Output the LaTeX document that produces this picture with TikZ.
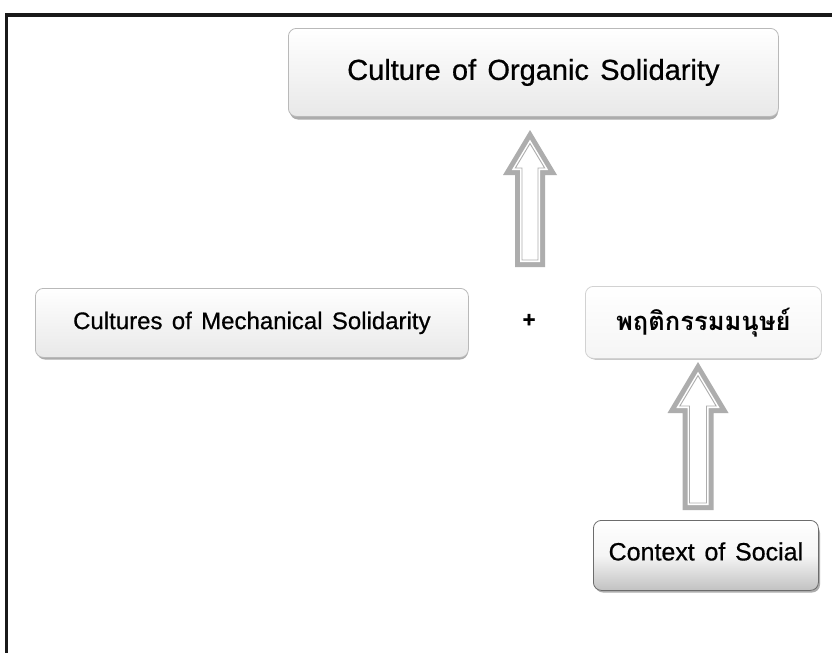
\documentclass[tikz,border=0pt]{standalone}
\usepackage{fontspec}
\setmainfont{Liberation Sans}[WordSpace=1.4, FakeBold=0.6]
\newfontfamily\thaifont[Script=Thai]{Loma}
\usetikzlibrary{calc}

% One layer of a block arrow pointing up, inset by #7 from the outline.
% #1 centre x, #2 tip y, #3 head base y, #4 tail y, #5 head half width, #6 shaft half width
\newcommand\arrowlayer[8]{%
  \pgfmathsetmacro\alen{#3-#2}%
  \pgfmathsetmacro\aedge{sqrt((#5)*(#5)+\alen*\alen)}%
  \pgfmathsetmacro\atip{#2+(#7)*\aedge/(#5)}%
  \pgfmathsetmacro\ahead{(#5)*((#3)-(#7)-(#2))/\alen-(#7)*\aedge/\alen}%
  \path[#8] (#1,\atip) -- ({#1+\ahead},{#3-(#7)}) -- ({#1+(#6)-(#7)},{#3-(#7)})
    -- ({#1+(#6)-(#7)},{#4-(#7)}) -- ({#1-(#6)+(#7)},{#4-(#7)})
    -- ({#1-(#6)+(#7)},{#3-(#7)}) -- ({#1-\ahead},{#3-(#7)}) -- cycle;}
\newcommand\hollowarrow[6]{%
  \arrowlayer{#1}{#2}{#3}{#4}{#5}{#6}{0}{fill=arrowgray}%
  \arrowlayer{#1}{#2}{#3}{#4}{#5}{#6}{5}{fill=white}%
  \arrowlayer{#1}{#2}{#3}{#4}{#5}{#6}{7}{fill=white,draw=arrowgray,line width=0.9pt}}

\definecolor{arrowgray}{gray}{0.68}
\definecolor{framegray}{gray}{0.1}

\tikzset{
  box/.style={anchor=north west, rounded corners=8pt, draw=gray!55, line width=0.8pt,
    top color=white, bottom color=gray!18, inner sep=0pt, align=center},
  boxshadow/.style={fill=gray!65, rounded corners=8pt},
  caption/.style={font=\fontsize{24}{28}\selectfont}
}

\begin{document}
\begin{tikzpicture}[x=1pt,y=-1pt]
\useasboundingbox (0,0) rectangle (832,653);
\fill[white] (0,0) rectangle (832,653);

% frame: top and left edges
\draw[framegray, line width=4.5pt] (5,15) -- (832,15);
\draw[framegray, line width=3.5pt] (6.7,15) -- (6.7,653);

% shadows under the boxes
\fill[boxshadow] (290,33) rectangle (778,119.5);
\fill[boxshadow] (37,293) rectangle (468,359.5);
\fill[boxshadow] (587,291) rectangle (821,359.5);
\fill[boxshadow] (595,525) rectangle (820,592.5);

% boxes
\node[box, minimum width=490pt, minimum height=88pt,
  font=\fontsize{29}{34}\selectfont] (org) at (288,28) {Culture of Organic Solidarity};
\node[box, minimum width=433pt, minimum height=69pt, caption] (mech) at (35,288)
  {Cultures of Mechanical Solidarity};
\node[box, minimum width=236pt, minimum height=72pt, top color=white, bottom color=gray!8,
  draw=gray!35, font=\thaifont\bfseries\fontsize{25.5}{30}\selectfont] (thai) at (585,286)
  {พฤติกรรมมนุษย์};
\node[box, minimum width=225pt, minimum height=70pt, draw=gray!85!black,
  top color=white, bottom color=gray!48, middle color=gray!8,
  font=\fontsize{25}{30}\selectfont, text height=18pt, text depth=8pt] (ctx) at (593,520)
  {Context of Social};

\node[font=\bfseries\fontsize{22}{26}\selectfont] (plus) at (529,320.5) {+};

% block arrows
\hollowarrow{530}{130}{175}{267}{27}{15}
\hollowarrow{698}{362}{413}{510}{30.5}{15.5}
\end{tikzpicture}
\end{document}
